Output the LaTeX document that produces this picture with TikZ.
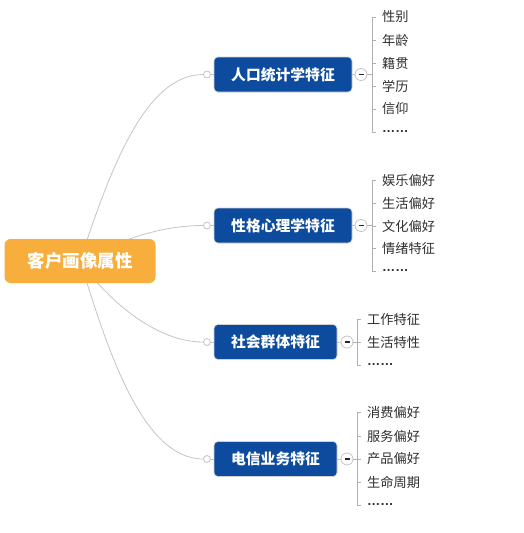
\documentclass[tikz,border=0pt]{standalone}
\usepackage{fontspec}
\setmainfont{Noto Sans CJK SC}
\newfontfamily\latinfont{Liberation Sans}
\usetikzlibrary{backgrounds}
\definecolor{rootorange}{HTML}{F7AE3C}
\definecolor{topicblue}{HTML}{0D4B9E}
\definecolor{linkgray}{HTML}{C4C4C4}
\definecolor{leafgray}{HTML}{2E2E2E}
\definecolor{rulegray}{HTML}{B0B0B0}

\begin{document}
\begin{tikzpicture}[x=1pt,y=-1pt,
  root/.style={rounded corners=6pt,fill=rootorange,text=white,
    minimum width=151pt,minimum height=44pt,inner sep=0pt,
    font=\fontsize{17.5}{19}\selectfont\bfseries},
  topic/.style={rounded corners=4pt,draw=black!18,line width=0.6pt,fill=topicblue,
    text=white,minimum height=35pt,inner sep=0pt,
    font=\fontsize{14.8}{16}\selectfont\bfseries},
  hub/.style={circle,draw=linkgray,line width=0.8pt,fill=white,inner sep=0pt,minimum size=7pt},
  tog/.style={circle,draw=linkgray,line width=0.8pt,fill=white,inner sep=0pt,minimum size=12pt},
  leaf/.style={anchor=west,inner sep=2pt,text=leafgray,font=\fontsize{13.2}{15}\selectfont},
  link/.style={draw=linkgray,line width=0.8pt},
  rule/.style={draw=rulegray,line width=0.9pt}]

  \useasboundingbox (0,0) rectangle (523,533);

  % central topic
  \node[root] (root) at (80,261) {客户画像属性};

  % main topics
  \node[topic,minimum width=138pt] (t1) at (283,74.5) {人口统计学特征};
  \node[topic,minimum width=138pt] (t2) at (283,225.5) {性格心理学特征};
  \node[topic,minimum width=123pt] (t3) at (275.5,342) {社会群体特征};
  \node[topic,minimum width=123pt] (t4) at (275.5,459) {电信业务特征};

  \node[hub] (h1) at (207,74.5) {};
  \node[hub] (h2) at (207,225.5) {};
  \node[hub] (h3) at (207,342) {};
  \node[hub] (h4) at (207,459) {};

  \node[tog] (g1) at (361,74.5) {\color{black!85}\rule{5pt}{1.2pt}};
  \node[tog] (g2) at (361,225.5) {\color{black!85}\rule{5pt}{1.2pt}};
  \node[tog] (g3) at (347,342) {\color{black!85}\rule{5pt}{1.2pt}};
  \node[tog] (g4) at (347,459) {\color{black!85}\rule{5pt}{1.2pt}};

  \begin{scope}[on background layer]
    \draw[link] (root.center) .. controls (110,170) and (145,74.5) .. (h1.west);
    \draw[link] (root.center) .. controls (120,240) and (160,225.5) .. (h2.west);
    \draw[link] (root.center) .. controls (100,290) and (150,342) .. (h3.west);
    \draw[link] (root.center) .. controls (105,340) and (140,459) .. (h4.west);
  \end{scope}
  \draw[link] (h1) -- (t1);
  \draw[link] (h2) -- (t2);
  \draw[link] (h3) -- (t3);
  \draw[link] (h4) -- (t4);
  \draw[link] (t1) -- (g1);
  \draw[link] (t2) -- (g2);
  \draw[link] (t3) -- (g3);
  \draw[link] (t4) -- (g4);

  % subtopics
  \node[leaf] (l1a) at (380,17) {性别};
  \node[leaf] (l1b) at (380,40) {年龄};
  \node[leaf] (l1c) at (380,63) {籍贯};
  \node[leaf] (l1d) at (380,86) {学历};
  \node[leaf] (l1e) at (380,109) {信仰};
  \node[leaf] (l1f) at (380,132) {\latinfont\bfseries ……};

  \node[leaf] (l2a) at (380,180) {娱乐偏好};
  \node[leaf] (l2b) at (380,203) {生活偏好};
  \node[leaf] (l2c) at (380,226) {文化偏好};
  \node[leaf] (l2d) at (380,248) {情绪特征};
  \node[leaf] (l2e) at (380,271) {\latinfont\bfseries ……};

  \node[leaf] (l3a) at (365,319) {工作特征};
  \node[leaf] (l3b) at (365,342) {生活特性};
  \node[leaf] (l3c) at (365,365) {\latinfont\bfseries ……};

  \node[leaf] (l4a) at (365,412) {消费偏好};
  \node[leaf] (l4b) at (365,436) {服务偏好};
  \node[leaf] (l4c) at (365,459) {产品偏好};
  \node[leaf] (l4d) at (365,482) {生命周期};
  \node[leaf] (l4e) at (365,505) {\latinfont\bfseries ……};

  % brackets
  \coordinate (k1) at (372,74.5);
  \coordinate (k2) at (372,225.5);
  \coordinate (k3) at (357,342);
  \coordinate (k4) at (357,459);
  \draw[rule] (g1) -- (k1);
  \draw[rule] (g2) -- (k2);
  \draw[rule] (g3) -- (k3);
  \draw[rule] (g4) -- (k4);
  \foreach \n in {a,b,c,d,e,f}
    \draw[rule] (k1) |- ([xshift=-4pt]l1\n.west);
  \foreach \n in {a,b,c,d,e}
    \draw[rule] (k2) |- ([xshift=-4pt]l2\n.west);
  \foreach \n in {a,b,c}
    \draw[rule] (k3) |- ([xshift=-4pt]l3\n.west);
  \foreach \n in {a,b,c,d,e}
    \draw[rule] (k4) |- ([xshift=-4pt]l4\n.west);
\end{tikzpicture}
\end{document}
